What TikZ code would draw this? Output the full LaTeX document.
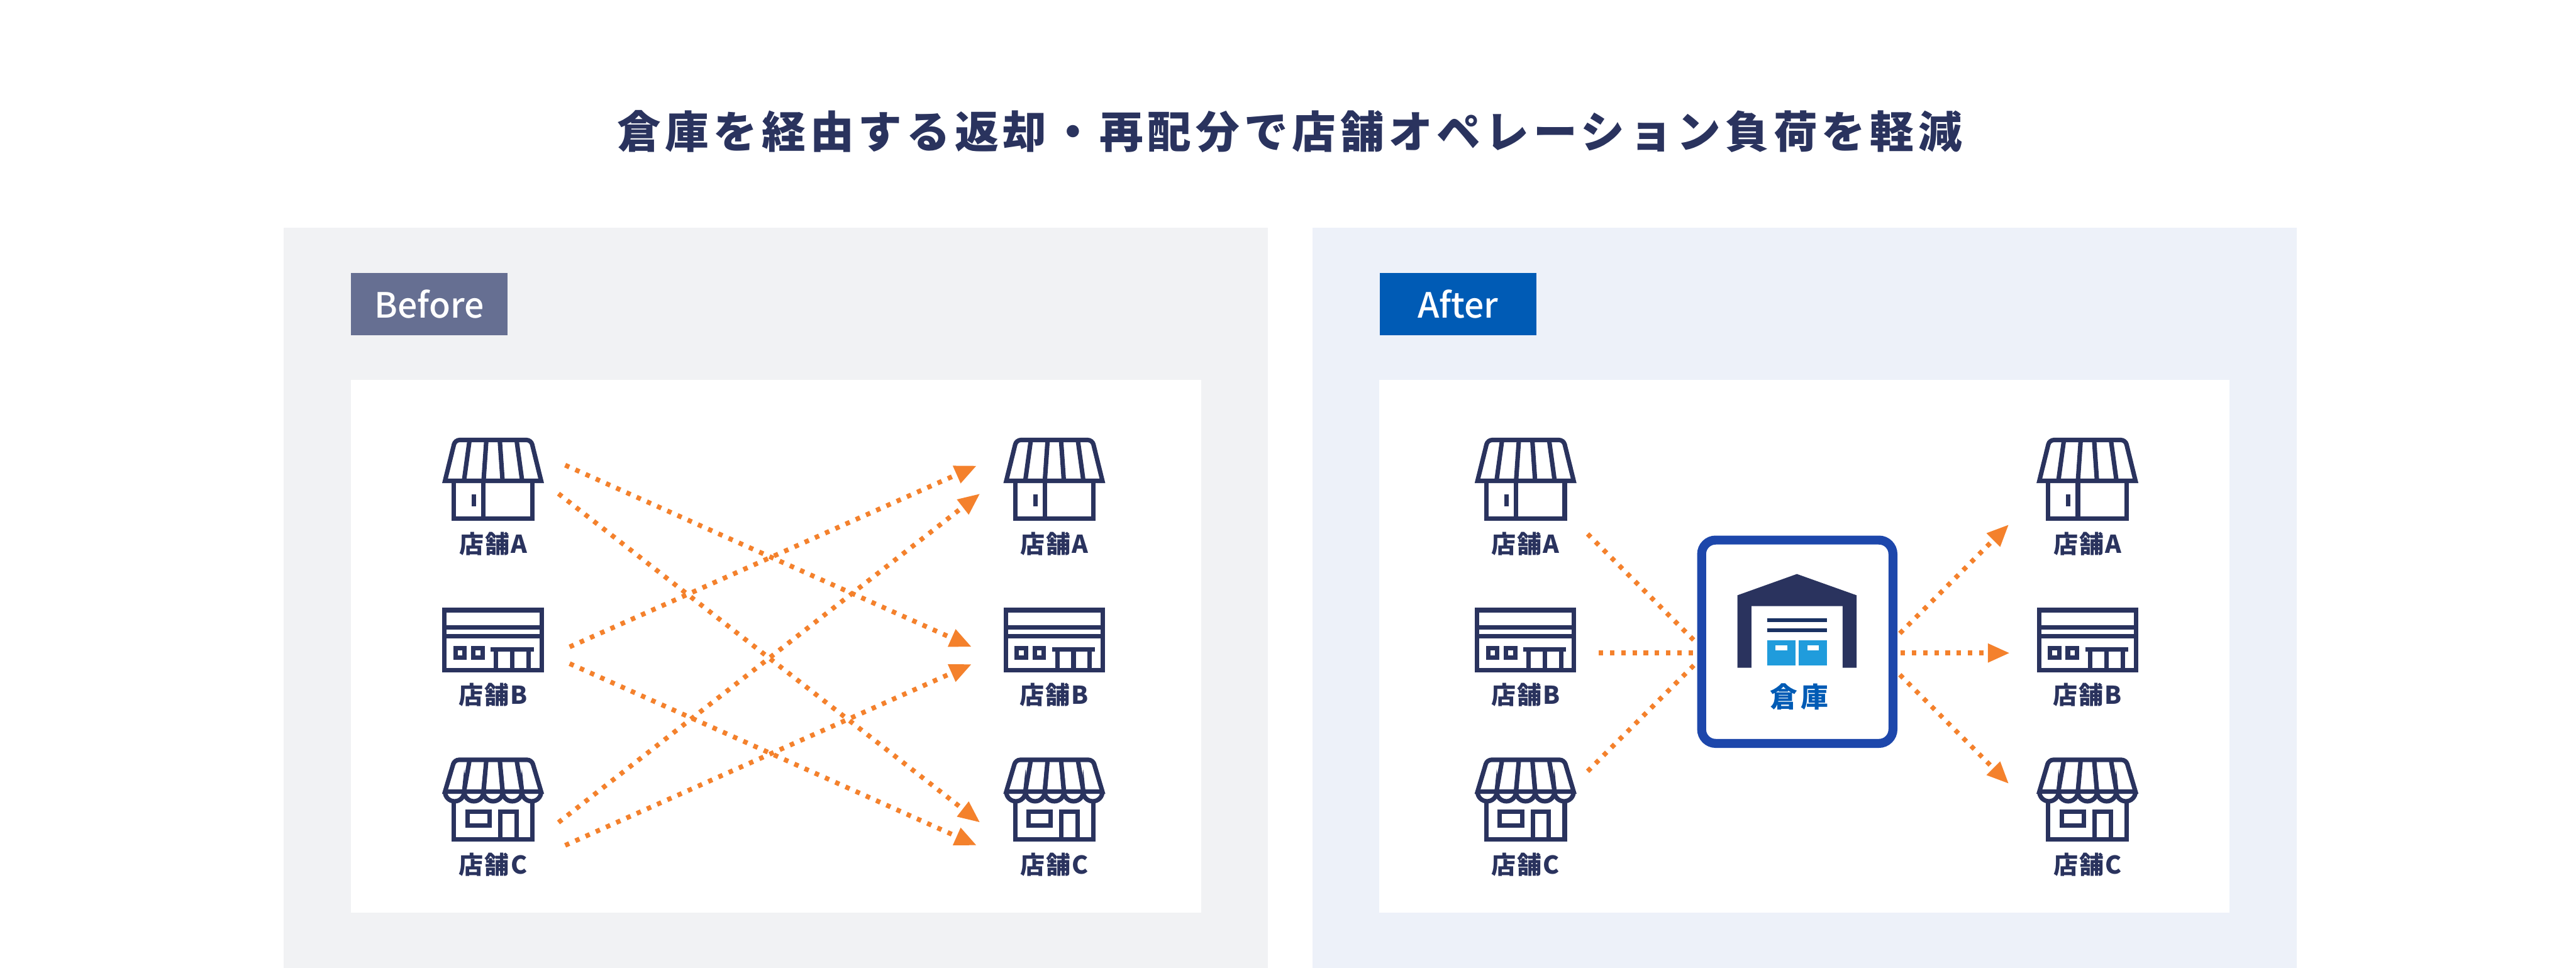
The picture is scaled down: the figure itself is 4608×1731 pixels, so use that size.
\documentclass[tikz,border=0pt]{standalone}
\usepackage{xcolor}
\usepackage{fontspec}
\usetikzlibrary{arrows.meta}
\setmainfont{Noto Sans CJK JP Medium}
\newfontfamily\titlefont[LetterSpace=10]{Noto Sans CJK JP}
\newfontfamily\labelfont[LetterSpace=5]{Noto Sans CJK JP}
\newfontfamily\soukofont[LetterSpace=12]{Noto Sans CJK JP}
\definecolor{navy}{HTML}{2A335E}
\definecolor{flow}{HTML}{F4812C}
\definecolor{beforebg}{HTML}{F1F2F4}
\definecolor{afterbg}{HTML}{EDF1F9}
\definecolor{beforetag}{HTML}{666F92}
\definecolor{aftertag}{HTML}{005BB5}
\definecolor{soukoline}{HTML}{1D47AB}
\definecolor{boxblue}{HTML}{209CDC}
\definecolor{rackline}{HTML}{1A3263}

\begin{document}
\begin{tikzpicture}[
    x=.01cm, y=-.01cm,
    panel/.style={inner sep=0, outer sep=0, minimum width=17.6cm, minimum height=13.23cm},
    sheet/.style={fill=white, inner sep=0, outer sep=0, minimum width=15.2cm, minimum height=9.52cm},
    tag/.style={inner sep=0, outer sep=0, minimum width=2.8cm, minimum height=1.12cm, text=white, font=\fontsize{17.7}{20}\selectfont},
    storelabel/.style={inner sep=0, text=navy, font=\labelfont\bfseries\fontsize{12.5}{14}\selectfont},
    iconline/.style={draw=navy, line width=.08cm},
    flowline/.style={draw=flow, line width=.085cm, dash pattern=on .08cm off .12cm},
    flowarrow/.style={flowline, -{Triangle[length=.39cm, width=.32cm]}},
    storea/.pic={
        \draw[iconline] (-86,76) [rounded corners=.08cm] -- (-68,3) -- (68,3) [sharp corners] -- (86,76) -- cycle;
        \draw[iconline] (-42,3) -- (-52,76) (-12,3) -- (-17,76) (12,3) -- (17,76) (42,3) -- (52,76);
        \draw[iconline] (-70,76) -- (-70,144) -- (70,144) -- (70,76);
        \draw[iconline] (-17,76) -- (-17,144);
        \fill[navy] (-38,100) rectangle (-30,122);
    },
    storeb/.pic={
        \draw[iconline] (-86.7,3.3) rectangle (86.7,110.7);
        \draw[iconline] (-86.7,34) -- (86.7,34) (-86.7,50) -- (86.7,50);
        \draw[iconline] (-67,71) rectangle (-50.7,88);
        \draw[iconline] (-35,71) rectangle (-18.7,88);
        \draw[iconline] (-4,74) -- (72.7,74);
        \draw[iconline] (5.3,74) -- (5.3,110) (34.3,74) -- (34.3,110) (63.3,74) -- (63.3,110);
    },
    storec/.pic={
        \draw[iconline] (-86,60) [rounded corners=.08cm] -- (-69,3) -- (69,3) [sharp corners] -- (86,60) -- cycle;
        \draw[iconline] (-42,3) -- (-52,60) (-12,3) -- (-17,60) (12,3) -- (17,60) (42,3) -- (52,60);
        \draw[iconline] (-86,60) arc[start angle=180, end angle=0, radius=17.2]
            arc[start angle=180, end angle=0, radius=17.2]
            arc[start angle=180, end angle=0, radius=17.2]
            arc[start angle=180, end angle=0, radius=17.2]
            arc[start angle=180, end angle=0, radius=17.2];
        \draw[iconline] (-70,76) -- (-70,145.7) -- (70,145.7) -- (70,76);
        \draw[iconline] (-46,96) rectangle (-6.3,121);
        \draw[iconline] (12.7,145.7) -- (12.7,96.3) -- (41.7,96.3) -- (41.7,145.7);
    }
]
    \useasboundingbox (0,0) rectangle (4608,1731);

    \node[inner sep=0, text=navy, font=\titlefont\bfseries\fontsize{22.3}{26}\selectfont] (title) at (2307,235) {倉庫を経由する返却・再配分で店舗オペレーション負荷を軽減};

    % panels
    \node[panel, fill=beforebg] (beforepanel) at (1388,1069.5) {};
    \node[panel, fill=afterbg] (afterpanel) at (3228,1069.5) {};
    \node[sheet] (beforesheet) at (1388,1156) {};
    \node[sheet] (aftersheet) at (3228,1156) {};
    \node[tag, fill=beforetag] (beforetag) at (768,544) {Before};
    \node[tag, fill=aftertag] (aftertag) at (2608,544) {After};

    % stores, before
    \pic at (882,784) {storea};
    \pic at (882,1088) {storeb};
    \pic at (882,1356) {storec};
    \pic at (1886,784) {storea};
    \pic at (1886,1088) {storeb};
    \pic at (1886,1356) {storec};
    \node[storelabel] (beforeal) at (882,973) {店舗A};
    \node[storelabel] (beforebl) at (882,1243) {店舗B};
    \node[storelabel] (beforecl) at (882,1547) {店舗C};
    \node[storelabel] (beforear) at (1886,973) {店舗A};
    \node[storelabel] (beforebr) at (1886,1243) {店舗B};
    \node[storelabel] (beforecr) at (1886,1547) {店舗C};

    % stores, after
    \pic at (2729,784) {storea};
    \pic at (2729,1088) {storeb};
    \pic at (2729,1356) {storec};
    \pic at (3734,784) {storea};
    \pic at (3734,1088) {storeb};
    \pic at (3734,1356) {storec};
    \node[storelabel] (afteral) at (2729,973) {店舗A};
    \node[storelabel] (afterbl) at (2729,1243) {店舗B};
    \node[storelabel] (aftercl) at (2729,1547) {店舗C};
    \node[storelabel] (afterar) at (3734,973) {店舗A};
    \node[storelabel] (afterbr) at (3734,1243) {店舗B};
    \node[storelabel] (aftercr) at (3734,1547) {店舗C};

    % warehouse
    \node[draw=soukoline, fill=white, line width=.16cm, rounded corners=.25cm, inner sep=0, outer sep=0, minimum width=3.42cm, minimum height=3.635cm] (souko) at (3215,1147.8) {};
    \fill[navy] (3108,1194.3) -- (3108,1064.7) -- (3214.3,1026.7) -- (3321,1064.7) -- (3321,1194.3) -- (3296,1194.3) -- (3296,1084) -- (3133,1084) -- (3133,1194.3) -- cycle;
    \fill[rackline] (3160.7,1106.3) rectangle (3268.3,1113);
    \fill[rackline] (3160.7,1123.7) rectangle (3268.3,1130.3);
    \fill[boxblue] (3160.7,1145.3) rectangle (3211.7,1190.7);
    \fill[boxblue] (3217.3,1145.3) rectangle (3268.3,1190.7);
    \fill[white] (3176,1154) rectangle (3196.7,1163.3);
    \fill[white] (3232.7,1154) rectangle (3253,1163.3);
    \node[inner sep=0, text=aftertag, font=\soukofont\bfseries\fontsize{14}{16}\selectfont] (soukolabel) at (3218,1246) {倉庫};

    % connector ends
    \coordinate (bao) at (1011,832);
    \coordinate (bau) at (999,883);
    \coordinate (bbo) at (1019,1157);
    \coordinate (bbu) at (1019,1187);
    \coordinate (bco) at (999,1471);
    \coordinate (bcu) at (1011,1512);
    \coordinate (baa) at (1747,833);
    \coordinate (bab) at (1753,883);
    \coordinate (bba) at (1738,1157);
    \coordinate (bbb) at (1738,1188);
    \coordinate (bca) at (1753,1471);
    \coordinate (bcb) at (1747,1512);

    \draw[flowarrow] (bao) -- (bba);
    \draw[flowarrow] (bau) -- (bca);
    \draw[flowarrow] (bbo) -- (baa);
    \draw[flowarrow] (bbu) -- (bcb);
    \draw[flowarrow] (bco) -- (bab);
    \draw[flowarrow] (bcu) -- (bbb);

    \coordinate (aao) at (2840,955);
    \coordinate (abo) at (2860,1168);
    \coordinate (aco) at (2840,1379.5);
    \coordinate (aai) at (3030,1145);
    \coordinate (abi) at (3030,1168);
    \coordinate (aci) at (3030,1190);
    \coordinate (ara) at (3398.5,1132.8);
    \coordinate (arb) at (3400,1168);
    \coordinate (arc) at (3398.5,1206.9);
    \coordinate (ata) at (3593.3,938.3);
    \coordinate (atb) at (3595,1168);
    \coordinate (atc) at (3593.3,1401.7);

    \draw[flowline] (aao) -- (aai);
    \draw[flowline] (abo) -- (abi);
    \draw[flowline] (aco) -- (aci);
    \draw[flowarrow] (ara) -- (ata);
    \draw[flowarrow] (arb) -- (atb);
    \draw[flowarrow] (arc) -- (atc);
\end{tikzpicture}
\end{document}
